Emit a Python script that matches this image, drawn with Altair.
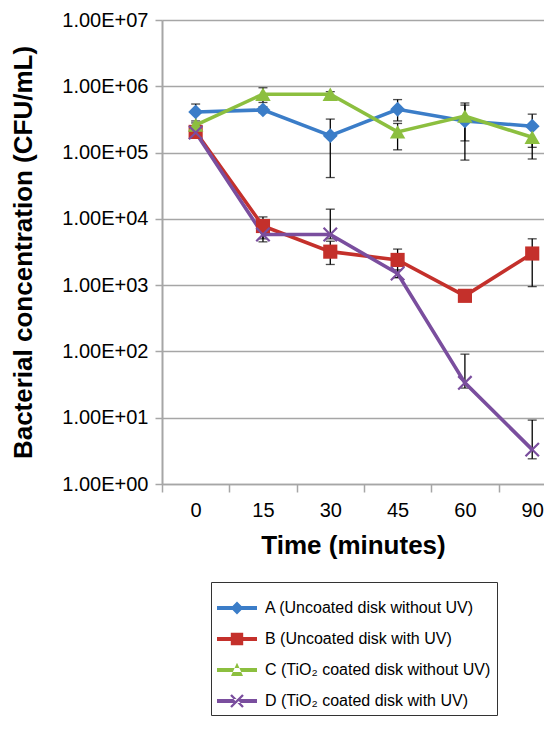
import altair as alt
import pandas as pd

# ---------------- data ----------------
times = ["0", "15", "30", "45", "60", "90"]
series_names = [
    "A (Uncoated disk without UV)",
    "B (Uncoated disk with UV)",
    "C (TiO\u2082 coated disk without UV)",
    "D (TiO\u2082 coated disk with UV)",
]
colors = ["#3B7DC8", "#C4302B", "#8CBF3F", "#7A4E9E"]

a_vals = [4.1e5, 4.4e5, 1.8e5, 4.5e5, 3.0e5, 2.5e5]
a_low = [2.8e5, 4.0e5, 4.2e4, 3.0e5, 7.7e4, 1.2e5]
a_high = [5.4e5, 4.9e5, 3.2e5, 6.3e5, 5.2e5, 3.8e5]

b_vals = [2.05e5, 7.8e3, 3.2e3, 2.4e3, 690, 3.0e3]
b_low = [1.8e5, 5.0e3, 2.05e3, 1.3e3, 630, 950]
b_high = [2.3e5, 1.07e4, 4.6e3, 3.5e3, 750, 5.0e3]

c_vals = [2.6e5, 7.6e5, 7.6e5, 2.05e5, 3.55e5, 1.7e5]
c_low = [2.2e5, 5.7e5, 6.9e5, 1.1e5, 1.5e5, 8.0e4]
c_high = [3.0e5, 9.5e5, 8.3e5, 2.75e5, 5.6e5, 2.6e5]

d_vals = [2.0e5, 5.8e3, 5.8e3, 1.5e3, 33.6, 3.3]
d_low = [1.8e5, 4.5e3, 5.0e3, 1.3e3, 28, 2.4]
d_high = [2.2e5, 7.1e3, 1.4e4, 1.7e3, 91, 9.2]

y_ticks = [1, 10, 100, 1e3, 1e4, 1e5, 1e6, 1e7]

# marker shapes (chart) and legend symbols (line + marker, unit square paths)
x_path = "M-1,-1L1,1M-1,1L1,-1"
legend_paths = [
    "M-1,-0.1L1,-0.1L1,0.1L-1,0.1Z M0,-0.32L0.32,0L0,0.32L-0.32,0Z",
    "M-1,-0.1L1,-0.1L1,0.1L-1,0.1Z M-0.31,-0.31L0.31,-0.31L0.31,0.31L-0.31,0.31Z",
    "M-1,-0.1L1,-0.1L1,0.1L-1,0.1Z M-0.3,0.3L0.3,0.3L0,-0.36Z",
    "M-1,-0.1L1,-0.1L1,0.1L-1,0.1Z "
    "M-0.342,-0.258L0.258,0.342L0.342,0.258L-0.258,-0.342Z "
    "M-0.342,0.258L0.258,-0.342L0.342,-0.258L-0.258,0.342Z",
]

# ---------------- table ----------------
rows = []
for name, vals, lo, hi in zip(
    series_names,
    [a_vals, b_vals, c_vals, d_vals],
    [a_low, b_low, c_low, d_low],
    [a_high, b_high, c_high, d_high],
):
    for i, t in enumerate(times):
        rows.append(dict(series=name, idx=i, time=t, value=vals[i], low=lo[i], high=hi[i]))
df = pd.DataFrame(rows)

W, H = 382, 464
step = W / 5.675
FONT = "Liberation Sans"

label_expr = "['" + "','".join(times) + "'][datum.value]"
x_enc = alt.X(
    "idx:Q",
    scale=alt.Scale(domain=[-0.5, 5.175], nice=False, zero=False),
    axis=alt.Axis(
        values=list(range(len(times))),
        labelExpr=label_expr,
        tickOffset=-step / 2,
        labelOffset=step / 2,
        tickSize=8,
        tickColor="#A6A6A6",
        tickWidth=1.5,
        domainColor="#A6A6A6",
        domainWidth=1.5,
        grid=False,
        labelFont=FONT,
        labelFontSize=20,
        labelColor="#000000",
        labelPadding=8,
        title="Time (minutes)",
        titleFont=FONT,
        titleFontSize=26,
        titleFontWeight="bold",
        titleColor="#000000",
        titlePadding=12,
    ),
)
y_scale = alt.Scale(type="log", domain=[1, 1e7], nice=False)
y_axis = alt.Axis(
    values=y_ticks,
    labelExpr="'1.00E+0' + round(log(datum.value) / LN10)",
    tickSize=7,
    tickColor="#A6A6A6",
    tickWidth=1.5,
    domainColor="#A6A6A6",
    domainWidth=2,
    gridColor="#A6A6A6",
    gridWidth=1.4,
    labelFont=FONT,
    labelFontSize=20,
    labelColor="#000000",
    labelPadding=7,
    title="Bacterial concentration (CFU/mL)",
    titleFont=FONT,
    titleFontSize=26,
    titleFontWeight="bold",
    titleColor="#000000",
    titlePadding=25,
)
color_scale = alt.Scale(domain=series_names, range=colors)

base = alt.Chart(df)

err_rule = base.mark_rule(color="black", strokeWidth=1.3).encode(
    x=x_enc, y=alt.Y("low:Q", scale=y_scale, axis=y_axis), y2="high:Q"
)
cap_hi = base.mark_tick(orient="horizontal", color="black", size=9, thickness=1.3).encode(
    x=x_enc, y=alt.Y("high:Q", scale=y_scale)
)
cap_lo = base.mark_tick(orient="horizontal", color="black", size=9, thickness=1.3).encode(
    x=x_enc, y=alt.Y("low:Q", scale=y_scale)
)
lines = base.mark_line(strokeWidth=3.6).encode(
    x=x_enc,
    y=alt.Y("value:Q", scale=y_scale),
    color=alt.Color("series:N", scale=color_scale),
    detail="series:N",
)

marker_specs = [
    dict(shape="diamond", filled=True, size=220),
    dict(shape="square", filled=True, size=200),
    dict(shape="triangle-up", filled=True, size=240),
    dict(shape=x_path, filled=False, size=180, strokeWidth=2.2),
]
markers = []
for name, spec in zip(series_names, marker_specs):
    markers.append(
        base.transform_filter(alt.datum.series == name)
        .mark_point(opacity=1, **spec)
        .encode(
            x=x_enc,
            y=alt.Y("value:Q", scale=y_scale),
            color=alt.Color("series:N", scale=color_scale),
        )
    )

legend_props = dict(
    title=None,
    orient="none",
    legendX=49,
    legendY=562,
    padding=6,
    strokeColor="#333333",
    fillColor="white",
    labelFont=FONT,
    labelFontSize=16,
    labelColor="#000000",
    labelOffset=8,
    symbolSize=1600,
    symbolStrokeWidth=0,
    symbolOpacity=1,
    rowPadding=3,
    labelLimit=400,
)
legend_layer = base.mark_point(filled=True, opacity=0).encode(
    x=x_enc,
    y=alt.Y("value:Q", scale=y_scale),
    color=alt.Color("series:N", scale=color_scale, legend=alt.Legend(**legend_props)),
    shape=alt.Shape(
        "series:N",
        scale=alt.Scale(domain=series_names, range=legend_paths),
        legend=alt.Legend(**legend_props),
    ),
)

chart = (
    alt.layer(err_rule, cap_hi, cap_lo, lines, *markers, legend_layer)
    .properties(width=W, height=H, padding={"left": 2, "top": 2, "right": 0, "bottom": 0})
    .configure_view(stroke=None)
    .configure(background="white")
)

chart.save("out.html", embed_options={"renderer": "svg", "actions": False})
